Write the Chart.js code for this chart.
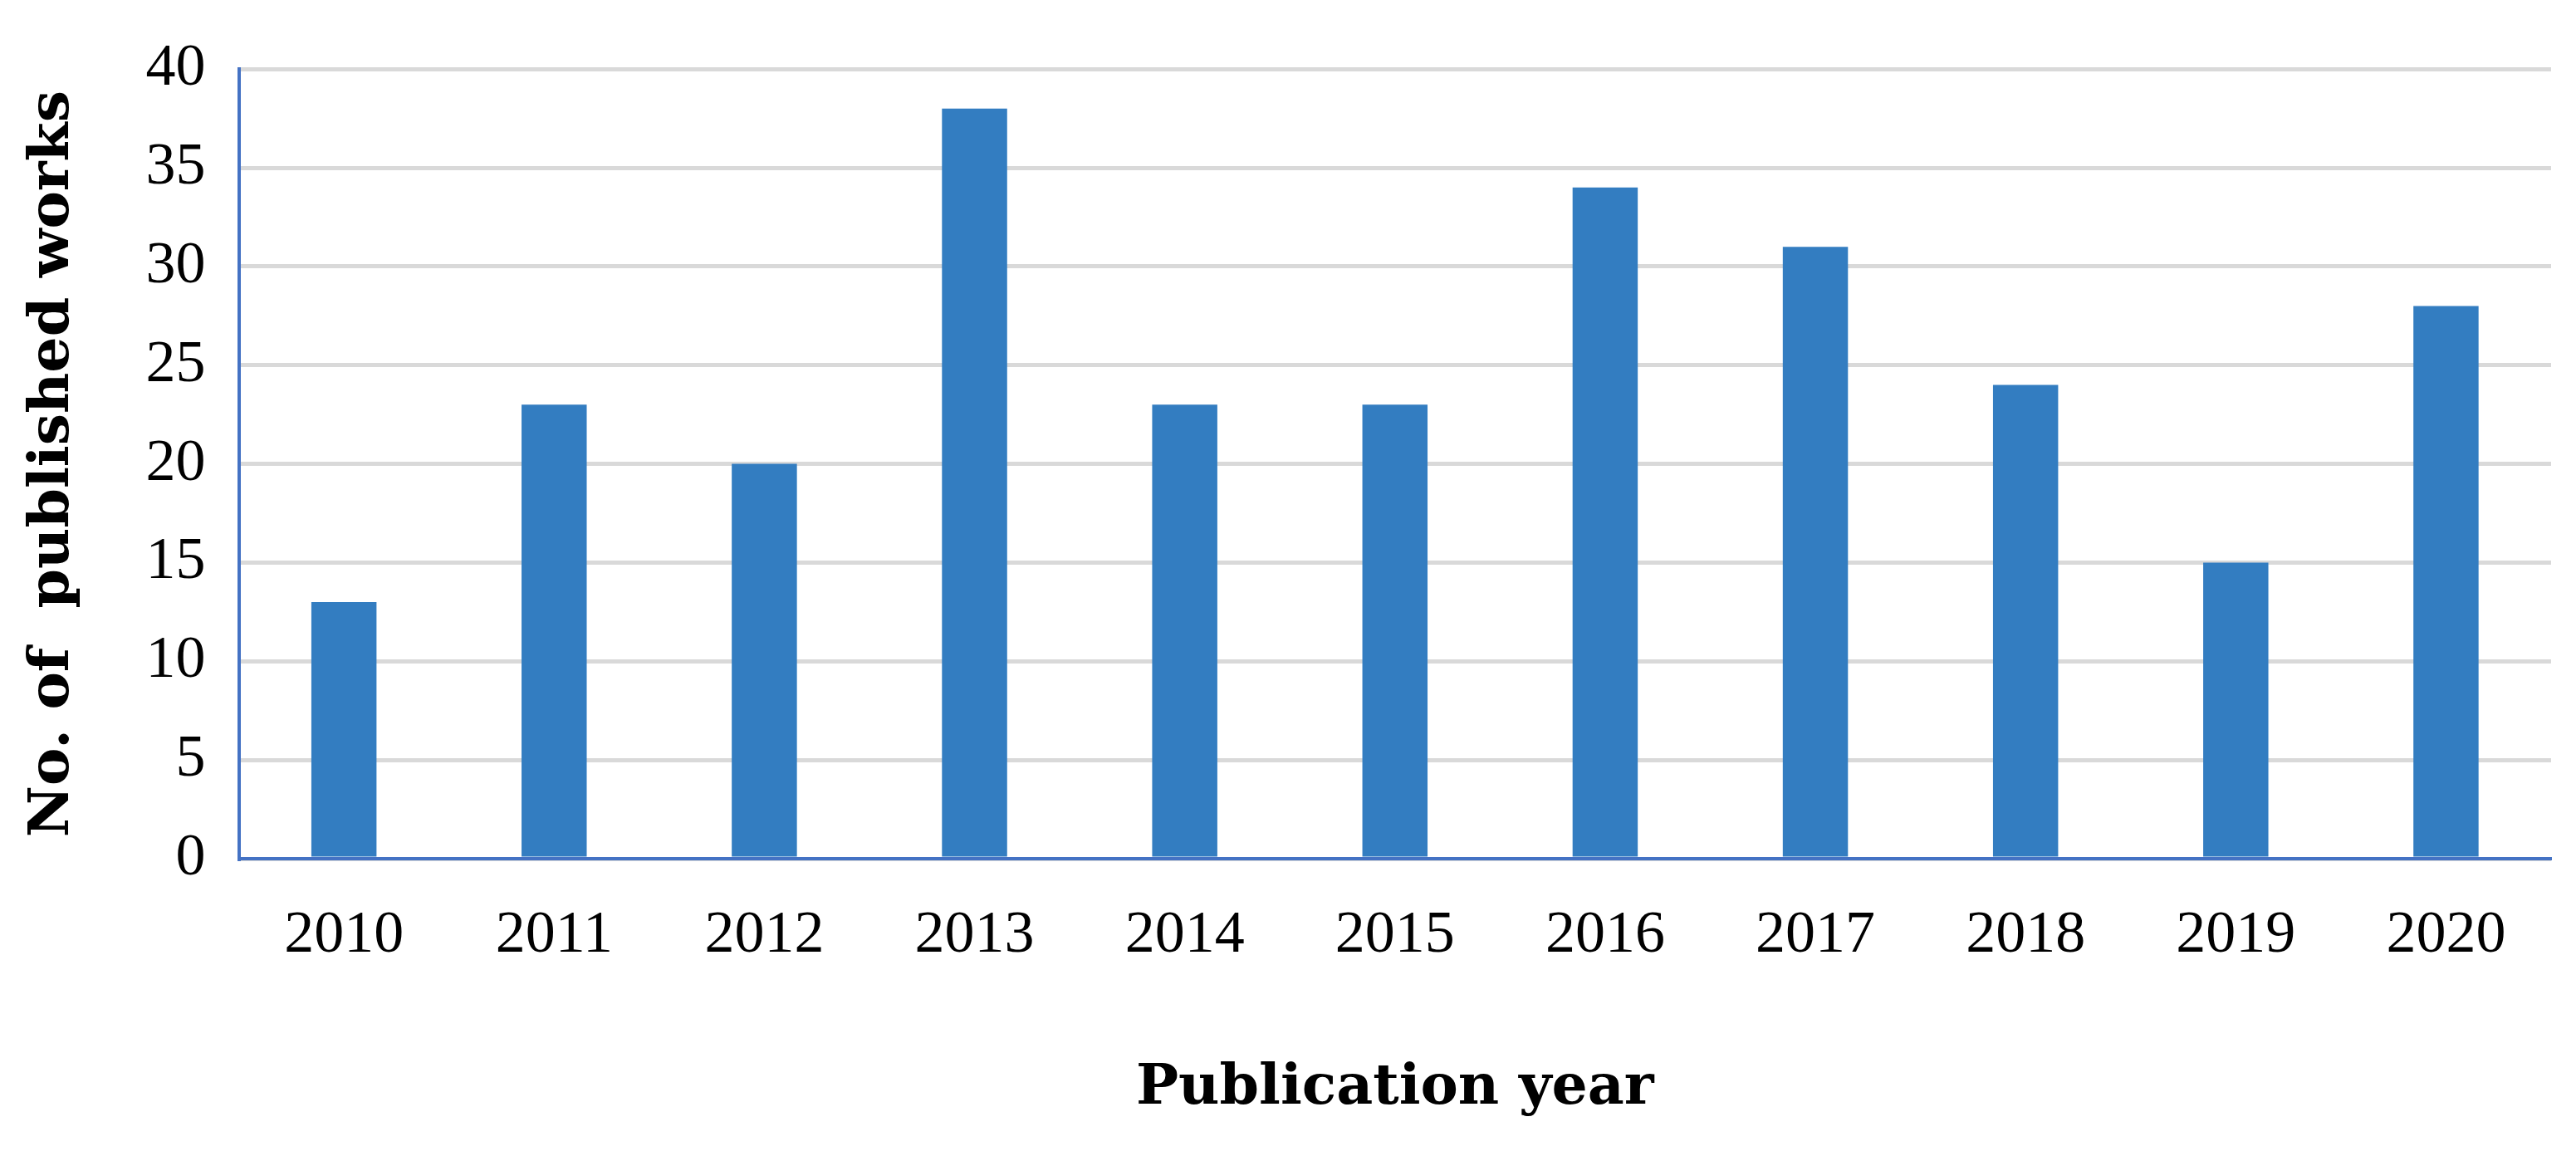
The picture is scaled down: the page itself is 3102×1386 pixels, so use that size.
<!DOCTYPE html>
<html>
<head>
<meta charset="utf-8">
<script src="https://cdn.jsdelivr.net/npm/chart.js@4"></script>
<style>
  html, body { margin: 0; padding: 0; background: #fff; }
  #wrap { width: 3102px; height: 1386px; }
</style>
</head>
<body>
<div id="wrap"><canvas id="chart"></canvas></div>
<script>
const years = ['2010', '2011', '2012', '2013', '2014', '2015', '2016', '2017', '2018', '2019', '2020'];
const works = [13, 23, 20, 38, 23, 23, 34, 31, 24, 15, 28];
const yTicks = [0, 5, 10, 15, 20, 25, 30, 35, 40];

const ctx = document.getElementById('chart').getContext('2d');
new Chart(ctx, {
    type: 'bar',
    data: {
        labels: years,
        datasets: [{
            data: works,
            backgroundColor: '#337dc1',
            barPercentage: 0.31,
            categoryPercentage: 1
        }]
    },
    options: {
        responsive: true,
        maintainAspectRatio: false,
        devicePixelRatio: 1,
        animation: false,
        layout: { padding: { left: 20, right: 30, top: 30, bottom: 30 } },
        plugins: { legend: { display: false }, tooltip: { enabled: false } },
        scales: {
            x: {
                grid: { display: false, drawTicks: false },
                border: { color: '#4472c4', width: 4 },
                ticks: { color: '#000', padding: 50, font: { family: 'Liberation Serif', size: 72 } },
                title: {
                    display: true, text: 'Publication year', color: '#000',
                    padding: { top: 50 },
                    font: { family: 'DejaVu Serif', size: 68, weight: 'bold' }
                }
            },
            y: {
                min: 0, max: 40,
                afterBuildTicks: axis => { axis.ticks = yTicks.map(v => ({ value: v })); },
                grid: { color: '#d9d9d9', lineWidth: 5, drawTicks: false },
                border: { color: '#4472c4', width: 4 },
                ticks: { color: '#000', padding: 40, font: { family: 'Liberation Serif', size: 72 } },
                title: {
                    display: true, text: 'No. of  published works', color: '#000',
                    padding: { bottom: 30 },
                    font: { family: 'DejaVu Serif', size: 68, weight: 'bold' }
                }
            }
        }
    }
});
</script>
</body>
</html>
